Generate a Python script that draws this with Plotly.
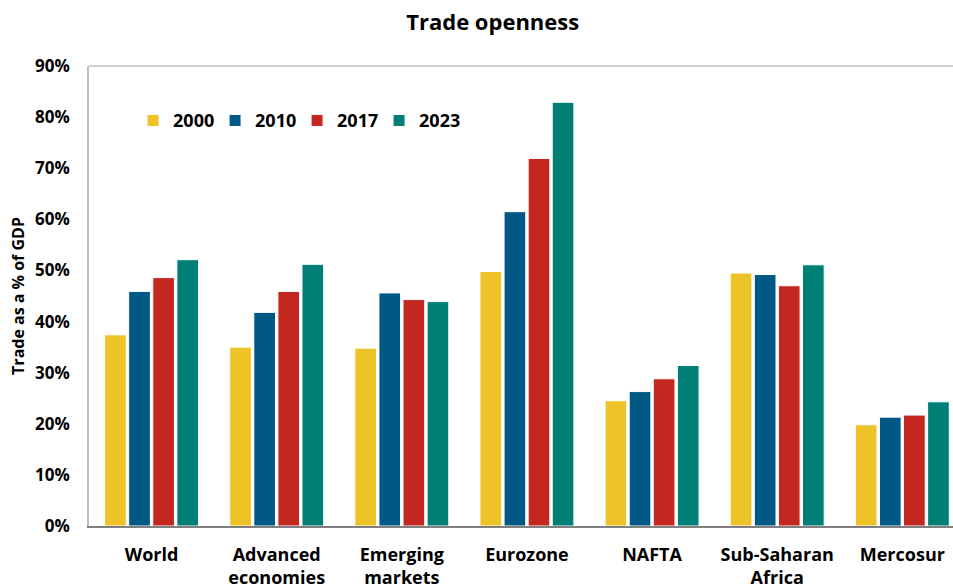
import plotly.graph_objects as go

categories = ["World", "Advanced<br>economies", "Emerging<br>markets", "Eurozone", "NAFTA", "Sub-Saharan<br>Africa", "Mercosur"]
years = ["2000", "2010", "2017", "2023"]
v2000 = [37.4, 35.0, 34.8, 49.8, 24.5, 49.5, 19.8]
v2010 = [45.9, 41.8, 45.6, 61.5, 26.3, 49.2, 21.3]
v2017 = [48.6, 45.9, 44.3, 71.9, 28.8, 47.0, 21.7]
v2023 = [52.1, 51.2, 43.9, 82.9, 31.4, 51.1, 24.3]
series = [v2000, v2010, v2017, v2023]
colors = ["#EDC328", "#005984", "#C32720", "#007F76"]

font_main = "Open Sans, Noto Sans, sans-serif"

fig = go.Figure()
for y, vals, c in zip(years, series, colors):
    fig.add_trace(go.Bar(
        name=y, x=list(range(len(categories))), y=vals,
        marker=dict(color=c, line=dict(color="white", width=1)),
    ))

fig.update_layout(
    width=953, height=587,
    margin=dict(l=89, r=0, t=66, b=61),
    paper_bgcolor="white", plot_bgcolor="white",
    barmode="group", bargap=0.23, bargroupgap=0.1,
    title=dict(text="<b>Trade openness</b>", x=0.517, xanchor="center", y=0.962, yanchor="middle",
               font=dict(family=font_main, size=22, color="black")),
    font=dict(family=font_main, color="black"),
    legend=dict(orientation="h", x=0.051, y=0.881, xanchor="left", yanchor="middle",
                font=dict(family=font_main, size=18, color="black", weight="bold"),
                bgcolor="rgba(0,0,0,0)", itemwidth=30, traceorder="normal",
                entrywidth=37, entrywidthmode="pixels"),
    xaxis=dict(
        tickmode="array", tickvals=list(range(len(categories))),
        ticktext=[f"<b>{c}</b>" for c in categories], automargin=False,
        range=[-0.5, 6.405], showline=True, linecolor="#808080", linewidth=2,
        ticks="", showgrid=False, zeroline=False, ticklabelstandoff=11,
        tickfont=dict(family=font_main, size=18, color="black"),
    ),
    yaxis=dict(
        range=[0, 90], dtick=10, ticksuffix="%", showgrid=False, zeroline=False,
        showline=True, linecolor="#BFBFBF", linewidth=1.5, ticks="", ticklabelstandoff=14,
        automargin=False,
        tickfont=dict(family=font_main, size=17, color="black", weight="bold"),
        title=dict(text="<b>Trade as a % of GDP</b>", standoff=6,
                   font=dict(family=font_main, size=16, color="black")),
    ),
)
fig.add_shape(type="line", xref="paper", yref="paper", x0=0, x1=1, y0=1, y1=1,
              line=dict(color="#BFBFBF", width=1.5))

fig.write_html("out.html")
